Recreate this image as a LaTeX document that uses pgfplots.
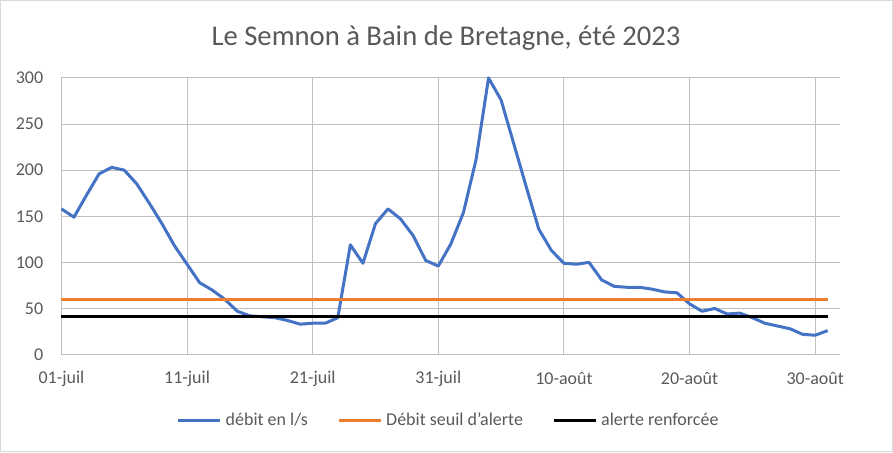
\documentclass[border=0pt]{standalone}
\usepackage{fontspec}
\setmainfont{Carlito}
\usepackage{pgfplots}
\pgfplotsset{compat=1.18}
\definecolor{txt}{HTML}{595959}
\definecolor{grid}{HTML}{D9D9D9}
\definecolor{axl}{HTML}{BFBFBF}
\definecolor{debit}{HTML}{4472C4}
\definecolor{seuil}{HTML}{ED7D31}
\begin{document}
\begin{tikzpicture}[x=0.75pt,y=0.75pt]
% cadre du graphique (893 x 452 px)
\draw[grid, line width=0.75pt] (0,0) rectangle (893,452);
\node[txt, font=\fontsize{21.5}{24}\selectfont] at (446,414) {Le Semnon à Bain de Bretagne, été 2023};
\begin{axis}[
  at={(61*0.75pt,97.5*0.75pt)}, anchor=south west,
  scale only axis, width=584.8pt, height=207.75pt,
  xmin=0, xmax=62, ymin=0, ymax=300,
  xtick={0,10,...,60},
  xticklabels={01-juil,11-juil,21-juil,31-juil,10-août,20-août,30-août},
  ytick={0,50,...,300},
  axis x line*=bottom, axis y line*=left,
  axis line style={-, axl, line width=0.75pt},
  grid=major, major grid style={grid, line width=0.75pt},
  major tick length=0pt,
  tick label style={txt, font=\fontsize{13.5}{16}\selectfont},
  /pgf/number format/assume math mode=true,
  xticklabel style={anchor=center, inner sep=0pt, yshift=-18pt},
  yticklabel style={anchor=east, inner sep=0pt, xshift=-13.5pt},
  clip=false,
  legend columns=3,
  legend style={at={(0.4975,-0.2365)}, anchor=center, draw=none, fill=none,
    font=\fontsize{13.5}{16}\selectfont, text=txt, inner sep=0pt,
    /tikz/every odd column/.append style={column sep=1pt},
    /tikz/every even column/.append style={column sep=20pt}},
  legend image code/.code={\draw[#1] (0pt,0pt) -- (31.5pt,0pt);},
]
\addplot[debit, line width=2.25pt, line join=round] coordinates {
 (0,158) (1,149) (2,173) (3,196) (4,203) (5,200) (6,185) (7,164) (8,142) (9,118)
 (10,98) (11,78) (12,70) (13,60) (14,47) (15,42) (16,41) (17,40) (18,37) (19,33)
 (20,34) (21,34) (22,40) (23,119) (24,99) (25,142) (26,158) (27,147) (28,129) (29,102)
 (30,96) (31,120) (32,154) (33,211) (34,300) (35,276) (36,229) (37,182) (38,136) (39,113)
 (40,99) (41,98) (42,100) (43,81) (44,74) (45,73) (46,73) (47,71) (48,68) (49,67)
 (50,55) (51,47) (52,50) (53,44) (54,45) (55,40) (56,34) (57,31) (58,28) (59,22)
 (60,21) (61,26)
};
\addlegendentry{débit en l/s}
\addplot[seuil, line width=2.25pt] coordinates {(0,60) (61,60)};
\addlegendentry{Débit seuil d\char"0027 alerte}
\addplot[black, line width=2.25pt] coordinates {(0,41) (61,41)};
\addlegendentry{alerte renforcée}
\end{axis}
\end{tikzpicture}
\end{document}
